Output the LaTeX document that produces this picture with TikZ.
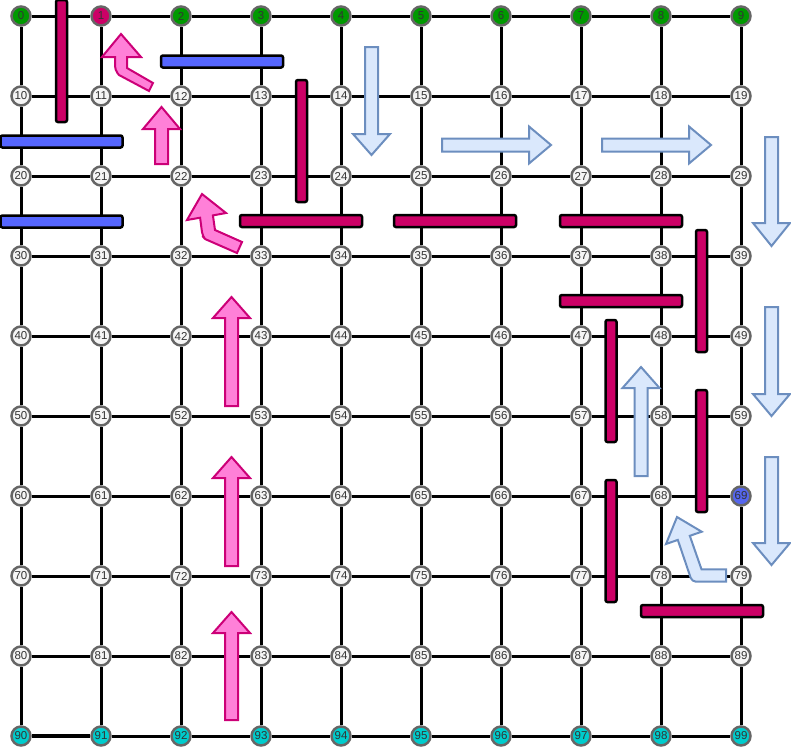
\documentclass[tikz,border=0pt]{standalone}
\usepackage{fontspec}
\setmainfont{Liberation Sans}
\definecolor{ndgray}{HTML}{666666}
\definecolor{ndfill}{HTML}{F5F5F5}
\definecolor{txtc}{HTML}{333333}
\definecolor{ngreen}{HTML}{009900}
\definecolor{nmag}{HTML}{CC0066}
\definecolor{ncyan}{HTML}{00CCCC}
\definecolor{nblue}{HTML}{5566EE}
\definecolor{wallmag}{HTML}{CC0066}
\definecolor{wallblue}{HTML}{5566FF}
\definecolor{parrf}{HTML}{FF80D8}
\definecolor{parrb}{HTML}{CC0077}
\definecolor{barrf}{HTML}{DAE8FC}
\definecolor{barrb}{HTML}{6C8EBF}
\newcommand\myVArrow[5]{\draw[#1] (#2,#3) -- (#2+18.5,#4) -- (#2+6.5,#4) -- (#2+6.5,#5) -- (#2-6.5,#5) -- (#2-6.5,#4) -- (#2-18.5,#4) -- cycle;}
\newcommand\myHArrow[5]{\draw[#1] (#3,#2) -- (#4,#2+18.5) -- (#4,#2+6.5) -- (#5,#2+6.5) -- (#5,#2-6.5) -- (#4,#2-6.5) -- (#4,#2-18.5) -- cycle;}
\newcommand\myWallH[3]{\draw[#1] (#2-61,#3-6) rectangle (#2+61,#3+6);}
\newcommand\myWallV[3]{\draw[#1] (#2-5.5,#3-61) rectangle (#2+5.5,#3+61);}
\begin{document}
\begin{tikzpicture}[x=1pt,y=-1pt,
  nd/.style={circle,draw=ndgray,line width=2.5pt,fill=ndfill,minimum size=19pt,inner sep=0pt,font=\fontsize{11.5}{11.5}\selectfont,text=txtc},
  edge/.style={line width=3pt,black},
  wallm/.style={draw=black,line width=2.5pt,fill=wallmag,rounded corners=2pt},
  wallb/.style={draw=black,line width=2.5pt,fill=wallblue,rounded corners=2pt},
  parr/.style={draw=parrb,fill=parrf,line width=2pt,line join=miter},
  barr/.style={draw=barrb,fill=barrf,line width=2pt,line join=miter}]
\useasboundingbox (0,0) rectangle (791,748);
% nodes
\foreach \r in {0,...,9}{\foreach \c in {0,...,9}{
  \pgfmathtruncatemacro\k{10*\r+\c}
  \def\fc{ndfill}
  \ifnum\r=0 \def\fc{ngreen}\fi
  \ifnum\k=1 \def\fc{nmag}\fi
  \ifnum\r=9 \def\fc{ncyan}\fi
  \ifnum\k=69 \def\fc{nblue}\fi
  \node[nd,fill=\fc] (n\k) at (21+80*\c,16+80*\r) {\k};
}}
% edges
\foreach \r in {0,...,9}{\foreach \c in {0,...,8}{
  \pgfmathtruncatemacro\a{10*\r+\c}
  \pgfmathtruncatemacro\b{10*\r+\c+1}
  \draw[edge] (n\a) -- (n\b);
}}
\foreach \r in {0,...,8}{\foreach \c in {0,...,9}{
  \pgfmathtruncatemacro\a{10*\r+\c}
  \pgfmathtruncatemacro\b{10*\r+\c+10}
  \draw[edge] (n\a) -- (n\b);
}}
\draw[edge,line width=4pt] (n90) -- (n91);
% walls
\myWallV{wallm}{61.5}{61}
\myWallH{wallb}{222}{61.5}
\myWallH{wallb}{61.5}{141.5}
\myWallH{wallb}{61.5}{221.5}
\myWallV{wallm}{301.5}{141}
\myWallH{wallm}{301}{221}
\myWallH{wallm}{455}{221}
\myWallH{wallm}{621}{221}
\myWallV{wallm}{701.5}{291}
\myWallH{wallm}{621}{301}
\myWallV{wallm}{611}{381}
\myWallV{wallm}{701.5}{451}
\myWallV{wallm}{611}{541}
\myWallH{wallm}{702}{611}
% pink arrows
\draw[parr] (121,34) -- (141,57) -- (127,57) -- (127,68) -- (153,83) -- (149,91) -- (119,75) [rounded corners=4pt] -- (115,70) [sharp corners] -- (115,57) -- (102,57) -- cycle;
\draw[parr] (202,194) -- (226,213) -- (212.9,215.4) -- (215,230) -- (242,242) -- (237,253) -- (205,239) [rounded corners=4pt] -- (202.5,236) [sharp corners] -- (200.1,217.7) -- (187,220) -- cycle;
\myVArrow{parr}{161.5}{107}{129}{164}
\myVArrow{parr}{231.5}{297}{318}{406}
\myVArrow{parr}{231.5}{457}{478}{566}
\myVArrow{parr}{231.5}{612}{633}{720}
% blue arrows
\myVArrow{barr}{371.5}{155}{134}{47}
\myHArrow{barr}{145}{551}{529}{442}
\myHArrow{barr}{145}{711}{689}{602}
\myVArrow{barr}{771.5}{246}{223}{137}
\myVArrow{barr}{771.5}{416}{394}{307}
\myVArrow{barr}{771.5}{565}{543}{457}
\myVArrow{barr}{641}{367}{388}{476}
\draw[barr] (677,517) -- (701.7,531.7) -- (689.8,535.8) -- (701.5,569.3) -- (726,569.3) -- (726,581.7) -- (695,581.7) [rounded corners=4pt] -- (692,581.7) [sharp corners] -- (677.8,539.9) -- (666,544) -- cycle;
\end{tikzpicture}
\end{document}
